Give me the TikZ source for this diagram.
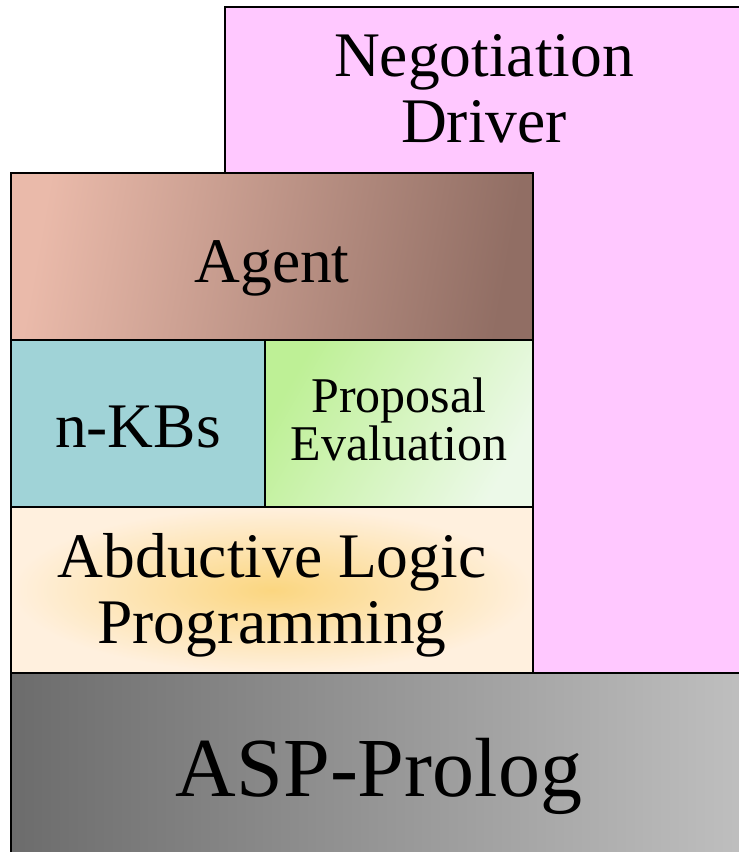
\documentclass[tikz,border=0pt]{standalone}
\usepackage{fontspec}
\setmainfont{Liberation Serif}
\definecolor{ndpink}{RGB}{255,200,255}
\definecolor{agentL}{RGB}{234,186,170}
\definecolor{agentR}{RGB}{145,110,100}
\definecolor{kbteal}{RGB}{160,211,215}
\definecolor{peL}{RGB}{190,240,150}
\definecolor{peR}{RGB}{236,249,232}
\definecolor{alpIn}{RGB}{251,214,128}
\definecolor{alpOut}{RGB}{255,240,222}
\definecolor{aspL}{RGB}{108,108,108}
\definecolor{aspR}{RGB}{194,194,194}
\tikzset{
  layer/.style={draw=black, line width=2pt, rectangle, inner sep=0pt, outer sep=0pt, anchor=north west},
  lbl/.style={inner sep=0pt, anchor=base, align=center},
  bigfont/.style={font=\fontsize{63.5}{66}\selectfont},
  midfont/.style={font=\fontsize{50}{48}\selectfont},
  hugefont/.style={font=\fontsize{84}{90}\selectfont}
}
\begin{document}
\begin{tikzpicture}[x=1pt,y=-1pt]
\useasboundingbox (0,0) rectangle (739,852);
\fill[white] (0,0) rectangle (739,852);

% Negotiation driver: top band plus the column on the right
\path[draw=black, line width=2pt, fill=ndpink]
  (225,7) -- (760,7) -- (760,673) -- (533,673) -- (533,173) -- (225,173) -- cycle;

% agent stack
\node[layer, minimum width=522pt, minimum height=167pt,
      left color=agentL, right color=agentR, shading angle=80] (agent) at (11,173) {};
\node[layer, minimum width=254pt, minimum height=167pt, fill=kbteal] (kbs) at (11,340) {};
\node[layer, minimum width=268pt, minimum height=167pt,
      left color=peL, right color=peR, shading angle=60] (prop) at (265,340) {};
\node[layer, minimum width=522pt, minimum height=166pt,
      inner color=alpIn, outer color=alpOut] (alp) at (11,507) {};
\node[layer, minimum width=760pt, minimum height=200pt,
      left color=aspL, right color=aspR] (asp) at (11,673) {};

% labels (base anchor sits on the last line)
\node[lbl, bigfont] (ndtxt) at (484,142) {Negotiation\\Driver};
\node[lbl, bigfont] (agenttxt) at (272,282) {Agent};
\node[lbl, bigfont] (kbstxt) at (138,447) {n-KBs};
\node[lbl, midfont] (proptxt) at (399,460) {Proposal\\Evaluation};
\node[lbl, bigfont] (alptxt) at (272,643) {Abductive Logic\\Programming};
\node[lbl, hugefont] (asptxt) at (379,796) {ASP-Prolog};
\end{tikzpicture}
\end{document}
